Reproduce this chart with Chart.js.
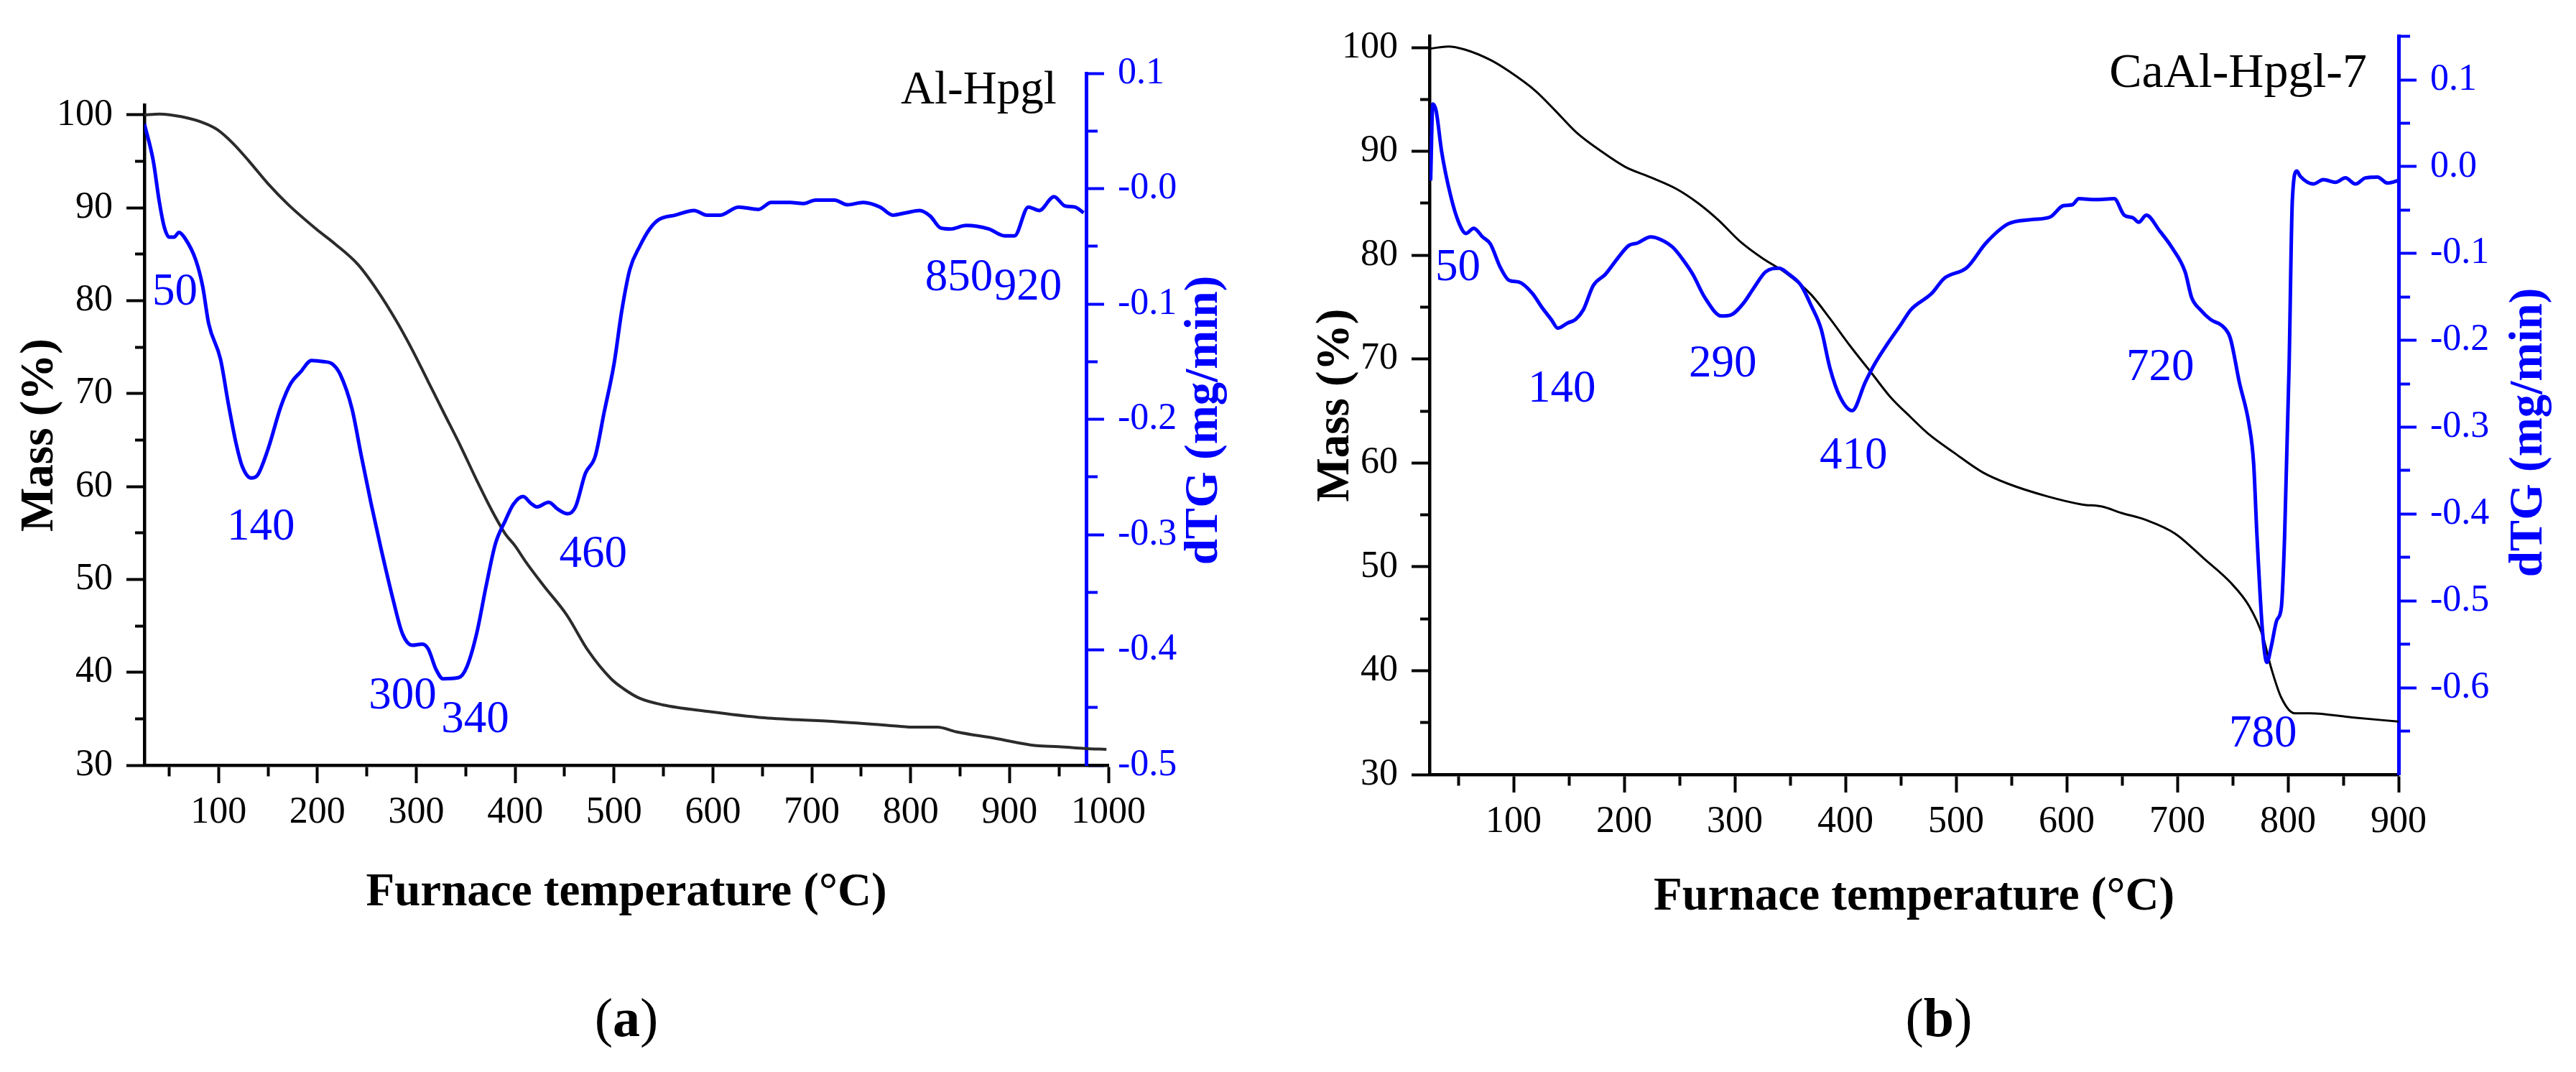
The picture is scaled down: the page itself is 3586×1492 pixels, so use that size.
<!DOCTYPE html>
<html>
<head>
<meta charset="utf-8">
<script src="https://cdn.jsdelivr.net/npm/chart.js@4.4.1/dist/chart.umd.min.js"></script>
<style>
html,body{margin:0;padding:0;background:#fff;}
#page{position:relative;width:3586px;height:1492px;overflow:hidden;background:#fff;}
.panel{position:absolute;top:0;width:1793px;height:1320px;}
.cap{position:absolute;top:1378px;width:200px;text-align:center;font-family:"Liberation Serif","Times New Roman",serif;font-size:76px;line-height:1;color:#000;}
</style>
</head>
<body>
<div id="page">
  <div class="panel" style="left:0"><canvas id="ca" width="1793" height="1320"></canvas></div>
  <div class="panel" style="left:1793px"><canvas id="cb" width="1793" height="1320"></canvas></div>
  <div class="cap" style="left:772px">(<b>a</b>)</div>
  <div class="cap" style="left:2599px">(<b>b</b>)</div>
</div>
<script>
// ---------------- DATA ----------------
// Panel (a): Al-Hpgl
const massTempA = [25,40,63,86,99,115,131,150,170,199,218,241,260,280,296,312,328,345,361,377,390,400,410,429,452,474,497,510,526,549,594,652,723,788,800,827,846,885,927,950,976,998];
const massA = [100.0,100.1,99.8,99.1,98.4,96.9,95.0,92.6,90.4,87.7,86.1,83.9,81.2,77.8,74.7,71.3,67.9,64.3,60.7,57.3,54.9,53.6,52.0,49.3,46.2,42.3,39.3,38.2,37.2,36.5,35.8,35.1,34.7,34.2,34.1,34.1,33.6,32.9,32.1,32.0,31.8,31.7];
const dtgTempA = [25,34,40,45,50,55,60,66,77,84,90,102,110,118,124,133,139,150,163,173,183,194,206,215,223,235,244,254,264,277,286,296,306,312,320,327,343,351,361,371,380,390,398,408,416,422,434,443,453,461,471,481,490,500,508,516,526,536,545,562,581,594,607,626,646,659,678,691,704,723,736,752,769,782,795,809,820,830,840,856,879,895,905,919,930,945,956,966,975];
const dtgA = [0.056,0.024,-0.011,-0.033,-0.042,-0.042,-0.038,-0.043,-0.062,-0.085,-0.117,-0.148,-0.187,-0.222,-0.241,-0.251,-0.249,-0.226,-0.189,-0.169,-0.159,-0.149,-0.150,-0.152,-0.161,-0.191,-0.230,-0.272,-0.311,-0.358,-0.386,-0.396,-0.395,-0.399,-0.417,-0.425,-0.424,-0.415,-0.386,-0.343,-0.308,-0.288,-0.274,-0.267,-0.273,-0.276,-0.272,-0.278,-0.282,-0.276,-0.247,-0.232,-0.194,-0.152,-0.105,-0.070,-0.050,-0.035,-0.027,-0.023,-0.019,-0.023,-0.023,-0.016,-0.018,-0.012,-0.012,-0.013,-0.010,-0.010,-0.014,-0.012,-0.016,-0.023,-0.021,-0.019,-0.024,-0.034,-0.035,-0.032,-0.035,-0.041,-0.041,-0.016,-0.019,-0.007,-0.015,-0.016,-0.021];
const peakLabelsA = ['50','140','300','340','460','850','920'];
const sampleA = 'Al-Hpgl';

// Panel (b): CaAl-Hpgl-7
const massTempB = [25,41,56,79,96,120,137,157,178,201,224,247,267,285,305,325,346,369,386,404,424,441,459,475,498,524,547,582,614,632,649,672,698,724,748,765,777,785,794,806,820,858,900];
const massB = [99.9,100.1,99.8,98.8,97.7,95.8,94.0,91.8,90.1,88.5,87.5,86.4,85.0,83.4,81.3,79.7,78.3,76.2,73.9,71.3,68.6,66.3,64.4,62.8,61.0,59.1,58.0,56.8,56.0,55.8,55.2,54.5,53.2,50.8,48.5,46.2,43.4,40.2,37.4,35.9,35.9,35.5,35.1];
const dtgTempB = [25,27,30,35,43,50,57,64,72,79,88,96,105,117,125,134,140,149,156,163,172,183,195,204,212,224,233,244,253,262,273,288,296,308,317,328,340,349,360,369,378,386,395,406,418,427,438,450,459,478,489,510,527,547,568,585,597,605,611,626,643,652,660,665,672,684,695,707,713,721,730,742,748,756,765,769,772,777,781,785,790,794,797,801,804,808,811,823,832,843,852,861,870,881,890,900];
const dtgB = [-0.016,0.072,0.064,0.017,-0.033,-0.063,-0.077,-0.071,-0.081,-0.089,-0.116,-0.131,-0.133,-0.146,-0.161,-0.176,-0.186,-0.180,-0.176,-0.165,-0.137,-0.124,-0.104,-0.091,-0.088,-0.081,-0.084,-0.093,-0.107,-0.124,-0.151,-0.172,-0.171,-0.157,-0.140,-0.121,-0.117,-0.124,-0.137,-0.160,-0.187,-0.232,-0.265,-0.281,-0.248,-0.226,-0.204,-0.182,-0.165,-0.146,-0.129,-0.116,-0.088,-0.066,-0.061,-0.058,-0.045,-0.044,-0.037,-0.038,-0.037,-0.056,-0.059,-0.064,-0.056,-0.074,-0.093,-0.121,-0.151,-0.165,-0.176,-0.185,-0.198,-0.248,-0.298,-0.342,-0.425,-0.535,-0.571,-0.552,-0.522,-0.508,-0.425,-0.232,-0.038,-0.005,-0.011,-0.020,-0.015,-0.018,-0.013,-0.020,-0.013,-0.012,-0.019,-0.016];
const peakLabelsB = ['50','140','290','410','720','780'];
const sampleB = 'CaAl-Hpgl-7';

const xTitle = 'Furnace temperature (°C)';
const yTitle = 'Mass (%)';
const y2Title = 'dTG (mg/min)';

// ---------------- LAYOUT / STYLE ----------------
const BLUE = '#0000ff';
const FONT = '"Liberation Serif", "Times New Roman", Times, serif';
Chart.defaults.font.family = FONT;
Chart.defaults.color = '#000';

const layoutA = {
  xMin: 25, xMax: 1000, yMax: 101.08, y2Min: -0.5, y2Max: 0.1,
  padding: {left: 0, top: 102, right: 50, bottom: 35},
  yWidth: 201, y2Width: 200, xHeight: 220,
  leftTop: 146, y2At: 977.5,
  yTitlePad: 17, xTitlePad: 3,
  y2TitlePos: [1677, 585],
  peakPos: [[33,-0.1009],[108.6,-0.3042],[251.8,-0.4508],[325.2,-0.4714],[444.5,-0.328],[814.5,-0.0884],[884.3,-0.0965]],
  namePos: [947.5, 0.0738], nameSize: 65,
  massColor: '#2b2b2b', massWidth: 4
};
const layoutB = {
  xMin: 24, xMax: 900, yMax: 101.1, y2Min: -0.7, y2Max: 0.1503,
  padding: {left: 0, top: 46, right: 47, bottom: 22},
  yWidth: 197, y2Width: 200, xHeight: 220,
  leftTop: null, y2At: null,
  yTitlePad: 28, xTitlePad: 10,
  y2TitlePos: [1728, 602],
  peakPos: [[29.2,-0.1309],[113,-0.2703],[258.4,-0.2414],[376.6,-0.3478],[653.9,-0.2456],[746.8,-0.6678]],
  namePos: [871.4, 0.0918], nameSize: 68,
  massColor: '#000000', massWidth: 3
};

function isMult(v, step) { const r = v / step; return Math.abs(r - Math.round(r)) < 1e-6; }

function makePlugin(L, peakLabels, sample) {
  return {
    id: 'panelExtras',
    afterLayout(chart) {
      const s = chart.scales;
      if (L.leftTop != null) {
        s.y.top = L.leftTop;
        s.y.height = s.y.bottom - s.y.top;
        s.y.configure();
      }
      if (L.y2At != null) {
        const px = s.x.getPixelForValue(L.y2At);
        const d = s.y2.left - px;
        s.y2.left -= d; s.y2.right -= d;
      }
    },
    afterDraw(chart) {
      const ctx = chart.ctx, s = chart.scales;
      ctx.save();
      ctx.fillStyle = BLUE;
      ctx.font = '63px ' + FONT;
      ctx.textAlign = 'left';
      ctx.textBaseline = 'alphabetic';
      peakLabels.forEach((t, i) => {
        const p = L.peakPos[i];
        ctx.fillText(t, s.x.getPixelForValue(p[0]), s.y2.getPixelForValue(p[1]));
      });
      ctx.fillStyle = '#000';
      ctx.font = L.nameSize + 'px ' + FONT;
      ctx.textAlign = 'right';
      ctx.fillText(sample, s.x.getPixelForValue(L.namePos[0]), s.y2.getPixelForValue(L.namePos[1]));
      ctx.translate(L.y2TitlePos[0], L.y2TitlePos[1]);
      ctx.rotate(-Math.PI / 2);
      ctx.fillStyle = BLUE;
      ctx.font = 'bold 65px ' + FONT;
      ctx.textAlign = 'center';
      ctx.textBaseline = 'middle';
      ctx.fillText(y2Title, 0, 0);
      ctx.restore();
    }
  };
}

function makeChart(id, L, mT, mV, dT, dV, peakLabels, sample) {
  const tickFont = {family: FONT, size: 52};
  const titleFont = {family: FONT, size: 65, weight: 'bold'};
  const dashOut = [13, 400];
  const dashIn = [0, 12, 13, 400];
  new Chart(document.getElementById(id), {
    type: 'line',
    data: {
      datasets: [
        {
          label: 'dTG',
          data: dT.map((x, i) => ({x: x, y: dV[i]})),
          yAxisID: 'y2',
          borderColor: BLUE, borderWidth: 5,
          pointRadius: 0, cubicInterpolationMode: 'monotone', fill: false
        },
        {
          label: 'Mass',
          data: mT.map((x, i) => ({x: x, y: mV[i]})),
          yAxisID: 'y',
          borderColor: L.massColor, borderWidth: L.massWidth,
          pointRadius: 0, cubicInterpolationMode: 'monotone', fill: false
        }
      ]
    },
    options: {
      responsive: false,
      animation: false,
      devicePixelRatio: 1,
      layout: {padding: L.padding},
      plugins: {legend: {display: false}, tooltip: {enabled: false}},
      scales: {
        x: {
          type: 'linear', position: 'bottom', min: L.xMin, max: L.xMax,
          afterFit: (sc) => { sc.height = L.xHeight; },
          ticks: {
            stepSize: 50, includeBounds: false, autoSkip: false, maxRotation: 0, minRotation: 0,
            padding: 10, font: tickFont, color: '#000',
            callback: (v) => isMult(v, 100) ? String(Math.round(v)) : ''
          },
          grid: {
            drawOnChartArea: false, drawTicks: true, tickLength: 25, tickWidth: 4, tickColor: '#000',
            tickBorderDash: (c) => (c.tick && isMult(c.tick.value, 100)) ? [] : dashOut
          },
          border: {display: true, color: '#000', width: 4.5},
          title: {display: true, text: xTitle, font: titleFont, color: '#000', padding: {top: 0, bottom: L.xTitlePad}}
        },
        y: {
          type: 'linear', position: 'left', min: 30, max: L.yMax,
          afterFit: (sc) => { sc.width = L.yWidth; },
          ticks: {
            stepSize: 5, includeBounds: false, autoSkip: false, padding: 19, font: tickFont, color: '#000',
            callback: (v) => isMult(v, 10) ? String(Math.round(v)) : ''
          },
          grid: {
            drawOnChartArea: false, drawTicks: true, tickLength: 25, tickWidth: 4, tickColor: '#000',
            tickBorderDash: (c) => (c.tick && isMult(c.tick.value, 10)) ? [] : dashIn
          },
          border: {display: true, color: '#000', width: 4.5},
          title: {display: true, text: yTitle, font: titleFont, color: '#000', padding: {top: L.yTitlePad, bottom: 0}}
        },
        y2: {
          type: 'linear', position: 'right', min: L.y2Min, max: L.y2Max,
          afterFit: (sc) => { sc.width = L.y2Width; },
          ticks: {
            stepSize: 0.05, includeBounds: false, autoSkip: false, padding: 19, font: tickFont, color: BLUE,
            callback: (v) => isMult(v, 0.1) ? v.toFixed(1) : ''
          },
          grid: {
            drawOnChartArea: false, drawTicks: true, tickLength: 25, tickWidth: 4, tickColor: BLUE,
            tickBorderDash: (c) => (c.tick && isMult(c.tick.value, 0.1)) ? [] : dashOut
          },
          border: {display: true, color: BLUE, width: 5},
          title: {display: false}
        }
      }
    },
    plugins: [makePlugin(L, peakLabels, sample)]
  });
}

makeChart('ca', layoutA, massTempA, massA, dtgTempA, dtgA, peakLabelsA, sampleA);
makeChart('cb', layoutB, massTempB, massB, dtgTempB, dtgB, peakLabelsB, sampleB);
</script>
</body>
</html>
